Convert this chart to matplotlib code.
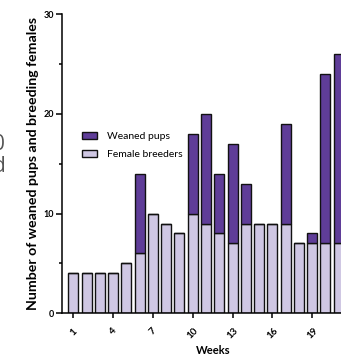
import matplotlib.pyplot as plt
import numpy as np
from matplotlib.ticker import MultipleLocator

# weekly counts
weeks = np.arange(1, 22)
female_breeders = [4, 4, 4, 4, 5, 6, 10, 9, 8, 10, 9, 8, 7, 9, 9, 9, 9, 7, 7, 7, 7]
weaned_pups = [0, 0, 0, 0, 0, 8, 0, 0, 0, 8, 11, 6, 10, 4, 0, 0, 10, 0, 1, 17, 19]
week_ticks = [1, 4, 7, 10, 13, 16, 19]

dark = '#5f3d98'
light = '#cfc7e3'

W, H = 341, 355
fig = plt.figure(figsize=(W / 100, H / 100), dpi=100)

# axes run past the right edge of the picture (reference is cropped)
px_week = 13.27
x_left = 62
ax = fig.add_axes([x_left / W, 41.7 / H, 1.08, 299.3 / H])
x0 = 1 - (73.3 - x_left) / px_week
ax.set_xlim(x0, x0 + 1.08 * W / px_week)
ax.set_ylim(0, 30)

ax.bar(weeks, female_breeders, width=0.75, color=light, edgecolor='#111111',
       linewidth=1.0, label='Female breeders', zorder=2)
ax.bar(weeks, weaned_pups, bottom=female_breeders, width=0.75, color=dark,
       edgecolor='#111111', linewidth=1.0, label='Weaned pups', zorder=2)

for s in ['top', 'right']:
    ax.spines[s].set_visible(False)
for s in ['left', 'bottom']:
    ax.spines[s].set_linewidth(1.1)

ax.set_yticks([0, 10, 20, 30])
ax.yaxis.set_minor_locator(MultipleLocator(5))
ax.set_xticks(week_ticks)
ax.set_xticklabels([str(w) for w in week_ticks], rotation=45, ha='center',
                   va='top', fontweight='bold', fontsize=7, family='Lato')
ax.set_yticklabels(['0', '10', '20', '30'], fontweight='bold', fontsize=6.5,
                   family='Lato')
ax.tick_params(axis='y', which='major', length=4, width=1.1, pad=2)
ax.tick_params(axis='y', which='minor', length=2.5, width=1.1)
ax.tick_params(axis='x', which='major', length=3.5, width=1.1, pad=6)

ax.set_ylabel('Number of weaned pups and breeding females', fontweight='bold',
              fontsize=10.2, family='Lato', labelpad=3)
fig.text(213 / W, 1 - 351 / H, 'Weeks', ha='center', va='center',
         fontweight='bold', fontsize=8, family='Lato')

handles, labels = ax.get_legend_handles_labels()
ax.legend(handles[::-1], labels[::-1], loc='upper left',
          bbox_to_anchor=(74 / W, 1 - 123.5 / H), bbox_transform=fig.transFigure,
          frameon=False, prop={'family': 'Lato', 'size': 7.5},
          handlelength=1.45, handleheight=0.75, handletextpad=0.9,
          labelspacing=0.8, borderpad=0.3)

# fragments of the neighbouring panel's text at the left edge
fig.text(4.5 / W, 1 - 145 / H, '0', ha='right', va='center', fontsize=15,
         color='#555555', family='Open Sans')
fig.text(5.5 / W, 1 - 166 / H, 'd', ha='right', va='center', fontsize=15,
         color='#555555', family='Open Sans')

fig.savefig('out.png', dpi=100)
